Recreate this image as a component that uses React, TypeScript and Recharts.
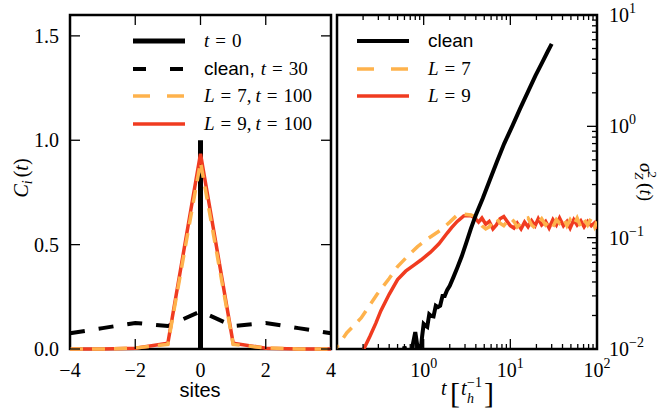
import React from 'react';
import { LineChart, Line, XAxis, YAxis, ReferenceArea } from 'recharts';

// ---- left panel: C_i(t) vs site ----
const sites = [-4, -3, -2, -1, 0, 1, 2, 3, 4];
const cleanT30 = [0.075, 0.1, 0.125, 0.11, 0.18, 0.11, 0.125, 0.1, 0.075];
const l7T100 = [0, 0, 0.005, 0.022, 0.895, 0.022, 0.005, 0, 0];
const l9T100 = [0, 0, 0.004, 0.028, 0.935, 0.028, 0.004, 0, 0];
const t0Sites = [0, 0];
const t0Corr = [0, 1];

const siteTicks = [-4, -2, 0, 2, 4];
const corrTicks = [0, 0.5, 1, 1.5];

// ---- right panel: sigma_Z^2(t) vs t ----
const tClean = [0.55, 0.6, 0.65, 0.7, 0.75, 0.8, 0.84, 0.88, 0.92, 0.96, 1.0, 1.05, 1.1, 1.16, 1.22, 1.3, 1.38, 1.46, 1.55, 1.65, 1.75, 1.87, 2.0, 2.2, 2.45, 2.75, 3.1, 3.5, 4.0, 4.8, 5.8, 7.0, 8.5, 10.5, 13, 16, 19.5, 23.5, 27, 30];
const sigClean = [0.007, 0.0105, 0.0085, 0.0075, 0.011, 0.0142, 0.011, 0.0088, 0.0095, 0.013, 0.0168, 0.0162, 0.0158, 0.0205, 0.0198, 0.0196, 0.0245, 0.0238, 0.0245, 0.03, 0.03, 0.034, 0.037, 0.044, 0.054, 0.068, 0.09, 0.12, 0.16, 0.225, 0.33, 0.48, 0.7, 1.0, 1.45, 2.05, 2.85, 3.8, 4.7, 5.5];

const tL7Rise = [0.09, 0.1, 0.13, 0.19, 0.29, 0.4, 0.5, 0.65, 0.85, 1.1, 1.57, 2.0, 2.4, 2.9];
const sigL7Rise = [0.0085, 0.0105, 0.014, 0.019, 0.031, 0.043, 0.055, 0.068, 0.083, 0.097, 0.117, 0.138, 0.158, 0.163];
const tL9Rise = [0.19, 0.2, 0.24, 0.28, 0.32, 0.4, 0.5, 0.62, 0.78, 0.93, 1.2, 1.5, 1.87, 2.1, 2.44, 2.9];
const sigL9Rise = [0.0088, 0.0097, 0.013, 0.017, 0.022, 0.031, 0.042, 0.05, 0.057, 0.063, 0.074, 0.088, 0.11, 0.123, 0.14, 0.157];

const tPlateau = [3.5, 3.9, 4.3, 4.7, 5.2, 5.7, 6.3, 6.9, 7.6, 8.4, 9.2, 10, 11, 12, 13.3, 14.6, 16, 17.6, 19.3, 21, 23, 25.5, 28, 31, 34, 37, 41, 45, 49, 54, 59, 65, 71, 78, 86, 94, 100];
const sigL9Plateau = [0.158, 0.15, 0.138, 0.15, 0.132, 0.14, 0.12, 0.13, 0.148, 0.155, 0.14, 0.128, 0.122, 0.135, 0.12, 0.138, 0.125, 0.142, 0.128, 0.148, 0.13, 0.14, 0.122, 0.145, 0.13, 0.15, 0.128, 0.14, 0.122, 0.145, 0.13, 0.142, 0.125, 0.14, 0.128, 0.136, 0.12];
const sigL7Plateau = [0.16, 0.155, 0.14, 0.128, 0.12, 0.125, 0.14, 0.15, 0.135, 0.128, 0.14, 0.15, 0.14, 0.125, 0.135, 0.145, 0.15, 0.13, 0.122, 0.135, 0.148, 0.13, 0.14, 0.125, 0.145, 0.135, 0.15, 0.128, 0.145, 0.13, 0.15, 0.125, 0.145, 0.13, 0.15, 0.125, 0.14];

const timeDecades = [0.1, 1, 10, 100];
const sigmaDecades = [0.01, 0.1, 1, 10];

const zip = (xs: number[], ys: number[]) => xs.map((x, i) => ({ x, y: ys[i] }));
const withMinors = (decades: number[]) => [
  ...decades,
  ...decades.slice(0, -1).flatMap((d) => [2, 3, 4, 5, 6, 7, 8, 9].map((m) => m * d)),
];

const INK = '#000';
const ORANGE = '#feb24c';
const RED = '#f03b20';
const SERIF = '"Liberation Serif", "DejaVu Serif", serif';
const SANS = '"Liberation Sans", Arial, sans-serif';

// plot frame (px)
const TOP = 15;
const LEFT_RIGHT_EDGE = 331;
const MAJOR = 10;
const MINOR = 5;
const TW = 1.3;

function SitesTick(props: any) {
  const { x, y, payload } = props;
  const v = payload.value as number;
  const txt = v < 0 ? `\u2212${-v}` : `${v}`;
  return (
    <g>
      <line x1={x} x2={x} y1={y} y2={y - MAJOR} stroke={INK} strokeWidth={TW} />
      <line x1={x} x2={x} y1={TOP} y2={TOP + MAJOR} stroke={INK} strokeWidth={TW} />
      <text x={x} y={y + 28} textAnchor="middle" fontFamily={SERIF} fontSize={20} fill={INK}>{txt}</text>
    </g>
  );
}

function CorrTick(props: any) {
  const { x, y, payload } = props;
  return (
    <g>
      <line x1={x} x2={x + MAJOR} y1={y} y2={y} stroke={INK} strokeWidth={TW} />
      <line x1={LEFT_RIGHT_EDGE - MAJOR} x2={LEFT_RIGHT_EDGE} y1={y} y2={y} stroke={INK} strokeWidth={TW} />
      <text x={x - 11} y={y + 7} textAnchor="end" fontFamily={SERIF} fontSize={20} fill={INK}>
        {(payload.value as number).toFixed(1)}
      </text>
    </g>
  );
}

const expText = (v: number) => {
  const e = Math.round(Math.log10(v));
  return e < 0 ? `\u2212${-e}` : `${e}`;
};

function TimeTick(props: any) {
  const { x, y, payload } = props;
  const v = payload.value as number;
  const major = timeDecades.includes(v);
  const len = major ? MAJOR : MINOR;
  return (
    <g>
      <line x1={x} x2={x} y1={y} y2={y - len} stroke={INK} strokeWidth={TW} />
      <line x1={x} x2={x} y1={TOP} y2={TOP + len} stroke={INK} strokeWidth={TW} />
      {major && v >= 1 && (
        <text x={x} y={y + 28} textAnchor="middle" fontFamily={SERIF} fontSize={20} fill={INK}>
          10<tspan dy={-9} fontSize={14}>{expText(v)}</tspan>
        </text>
      )}
    </g>
  );
}

function SigmaTick(props: any) {
  const { x, y, payload } = props;
  const v = payload.value as number;
  const major = sigmaDecades.includes(v);
  const len = major ? MAJOR : MINOR;
  return (
    <g>
      <line x1={x - len} x2={x} y1={y} y2={y} stroke={INK} strokeWidth={TW} />
      {major && (
        <text x={x + 12} y={y + 7} fontFamily={SERIF} fontSize={20} fill={INK}>
          10<tspan dy={-9} fontSize={14}>{expText(v)}</tspan>
        </text>
      )}
    </g>
  );
}

const abs = { position: 'absolute' as const, left: 0, top: 0 };

function LegendRow({ y, x0, stroke, width, dash, children }: any) {
  return (
    <g>
      <line x1={x0} x2={x0 + 52} y1={y} y2={y} stroke={stroke} strokeWidth={width} strokeDasharray={dash} />
      {children}
    </g>
  );
}

export default function App() {
  return (
    <div style={{ ...abs, width: 660, height: 418, background: '#fff' }}>
      <div style={abs}>
        <LineChart width={660} height={418} margin={{ top: 15, right: 329, bottom: 39, left: 30 }}>
          <XAxis type="number" dataKey="x" domain={[-4, 4]} ticks={siteTicks} interval={0}
            axisLine={false} tickLine={false} tickSize={0} tickMargin={0} height={30}
            tick={(p: any) => <SitesTick {...p} />} />
          <YAxis type="number" dataKey="y" domain={[0, 1.6]} ticks={corrTicks} interval={0}
            axisLine={false} tickLine={false} tickSize={0} tickMargin={0} width={40}
            tick={(p: any) => <CorrTick {...p} />} />
          <Line data={zip(t0Sites, t0Corr)} dataKey="y" stroke={INK} strokeWidth={5} dot={false} isAnimationActive={false} />
          <Line data={zip(sites, cleanT30)} dataKey="y" stroke={INK} strokeWidth={4} strokeDasharray="15 14" dot={false} isAnimationActive={false} />
          <Line data={zip(sites, l9T100)} dataKey="y" stroke={RED} strokeWidth={3.5} dot={false} isAnimationActive={false} />
          <Line data={zip(sites, l7T100)} dataKey="y" stroke={ORANGE} strokeWidth={3.5} strokeDasharray="13 9" dot={false} isAnimationActive={false} />
          <ReferenceArea x1={-4} x2={4} y1={0} y2={1.6} fill="none" stroke={INK} strokeWidth={2.5} />
        </LineChart>
      </div>
      <div style={abs}>
        <LineChart width={660} height={418} margin={{ top: 15, right: 23, bottom: 39, left: 337 }}>
          <XAxis type="number" dataKey="x" scale="log" domain={[0.1, 100]} allowDataOverflow
            ticks={withMinors(timeDecades)} interval={0}
            axisLine={false} tickLine={false} tickSize={0} tickMargin={0} height={30}
            tick={(p: any) => <TimeTick {...p} />} />
          <YAxis type="number" dataKey="y" orientation="right" scale="log" domain={[0.01, 10]} allowDataOverflow
            ticks={withMinors(sigmaDecades)} interval={0}
            axisLine={false} tickLine={false} tickSize={0} tickMargin={0} width={40}
            tick={(p: any) => <SigmaTick {...p} />} />
          <Line data={zip([...tL9Rise, ...tPlateau], [...sigL9Rise, ...sigL9Plateau])} dataKey="y" stroke={RED} strokeWidth={3.5} dot={false} isAnimationActive={false} />
          <Line data={zip([...tL7Rise, ...tPlateau], [...sigL7Rise, ...sigL7Plateau])} dataKey="y" stroke={ORANGE} strokeWidth={3.5} strokeDasharray="13 9" dot={false} isAnimationActive={false} />
          <Line data={zip(tClean, sigClean)} dataKey="y" stroke={INK} strokeWidth={4} dot={false} isAnimationActive={false} />
          <ReferenceArea x1={0.1} x2={100} y1={0.01} y2={10} fill="none" stroke={INK} strokeWidth={2.5} />
        </LineChart>
      </div>
      <svg width={660} height={418} style={{ ...abs, pointerEvents: 'none' }}>
        {/* left legend */}
        <LegendRow y={41} x0={133} stroke={INK} width={5}>
          <text x={204} y={47} fontFamily={SERIF} fontSize={19}>
            <tspan fontStyle="italic">t</tspan><tspan dx={6}>=</tspan><tspan dx={6}>0</tspan>
          </text>
        </LegendRow>
        <LegendRow y={69} x0={133} stroke={INK} width={4} dash="13 24">
          <text x={204} y={75} fontFamily={SERIF} fontSize={19}>
            <tspan fontFamily={SANS}>clean,</tspan><tspan dx={6} fontStyle="italic">t</tspan><tspan dx={6}>=</tspan><tspan dx={6}>30</tspan>
          </text>
        </LegendRow>
        <LegendRow y={96} x0={133} stroke={ORANGE} width={3.5} dash="17 17">
          <text x={204} y={102} fontFamily={SERIF} fontSize={19}>
            <tspan fontStyle="italic">L</tspan><tspan dx={6}>=</tspan><tspan dx={6}>7,</tspan><tspan dx={4} fontStyle="italic">t</tspan><tspan dx={6}>=</tspan><tspan dx={6}>100</tspan>
          </text>
        </LegendRow>
        <LegendRow y={124} x0={133} stroke={RED} width={3.5}>
          <text x={204} y={130} fontFamily={SERIF} fontSize={19}>
            <tspan fontStyle="italic">L</tspan><tspan dx={6}>=</tspan><tspan dx={6}>9,</tspan><tspan dx={4} fontStyle="italic">t</tspan><tspan dx={6}>=</tspan><tspan dx={6}>100</tspan>
          </text>
        </LegendRow>

        {/* right legend */}
        <LegendRow y={41} x0={357} stroke={INK} width={4}>
          <text x={428} y={47} fontFamily={SANS} fontSize={19}>clean</text>
        </LegendRow>
        <LegendRow y={69} x0={357} stroke={ORANGE} width={3.5} dash="17 17">
          <text x={428} y={75} fontFamily={SERIF} fontSize={19}>
            <tspan fontStyle="italic">L</tspan><tspan dx={6}>=</tspan><tspan dx={6}>7</tspan>
          </text>
        </LegendRow>
        <LegendRow y={96} x0={357} stroke={RED} width={3.5}>
          <text x={428} y={102} fontFamily={SERIF} fontSize={19}>
            <tspan fontStyle="italic">L</tspan><tspan dx={6}>=</tspan><tspan dx={6}>9</tspan>
          </text>
        </LegendRow>

        {/* axis titles */}
        <text x={28} y={178} transform="rotate(-90 28 178)" textAnchor="middle" fontFamily={SERIF} fontSize={20}>
          <tspan fontStyle="italic">C</tspan><tspan fontStyle="italic" fontSize={14} dy={4}>i</tspan><tspan dx={3} dy={-4}>(</tspan><tspan fontStyle="italic">t</tspan><tspan>)</tspan>
        </text>
        <text x={200} y={397} textAnchor="middle" fontFamily={SANS} fontSize={20}>sites</text>

        <text x={640} y={182} transform="rotate(90 640 182)" textAnchor="middle" fontFamily={SERIF} fontSize={19}>
          <tspan fontStyle="italic">σ</tspan><tspan fontStyle="italic" fontSize={13} dy={5}>Z</tspan><tspan fontSize={13} dx={-8} dy={-13}>2</tspan><tspan dx={5} dy={8}>(</tspan><tspan fontStyle="italic">t</tspan><tspan>)</tspan>
        </text>

        <g fontFamily={SERIF} fill={INK}>
          <text x={441} y={395} fontSize={20} fontStyle="italic">t</text>
          <text x={450} y={403} fontSize={30}>[</text>
          <text x={461} y={395} fontSize={20} fontStyle="italic">t</text>
          <text x={467} y={403} fontSize={14} fontStyle="italic">h</text>
          <text x={467} y={387} fontSize={14}>{'\u22121'}</text>
          <text x={484} y={403} fontSize={30}>]</text>
        </g>
      </svg>
    </div>
  );
}
